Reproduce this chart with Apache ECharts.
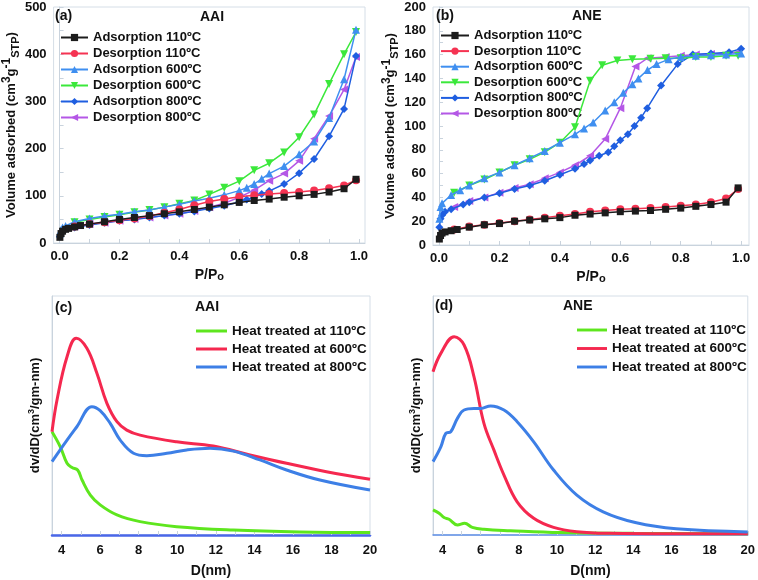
<!DOCTYPE html>
<html>
<head>
<meta charset="utf-8">
<script src="https://cdn.jsdelivr.net/npm/echarts@6.0.0/dist/echarts.min.js"></script>
<style>
  html, body { margin: 0; padding: 0; background: #fff; }
  #chart { width: 758px; height: 580px; }
</style>
</head>
<body>
<div id="chart"></div>
<script>
// ---- (a) AAI isotherms ----
var aAds110X = [0.001, 0.005, 0.01, 0.02, 0.03, 0.05, 0.07, 0.1, 0.15, 0.2, 0.25, 0.3, 0.35, 0.4, 0.45, 0.5, 0.55, 0.6, 0.65, 0.7, 0.75, 0.8, 0.85, 0.9, 0.95, 0.99];
var aAds110Y = [12, 20, 25, 29, 31, 34, 37, 40, 45, 50, 54, 58, 62, 66, 71, 76, 81, 86, 90, 93, 97, 100, 103, 108, 115, 135];
var aDes110X = [0.05, 0.1, 0.15, 0.2, 0.25, 0.3, 0.35, 0.4, 0.45, 0.5, 0.55, 0.6, 0.65, 0.7, 0.75, 0.8, 0.85, 0.9, 0.95, 0.99];
var aDes110Y = [35, 40, 44, 48, 52, 57, 64, 71, 80, 88, 93, 98, 101, 104, 106, 108, 111, 116, 122, 133];
var aAds600X = [0.001, 0.005, 0.01, 0.02, 0.05, 0.1, 0.15, 0.2, 0.25, 0.3, 0.35, 0.4, 0.45, 0.5, 0.55, 0.6, 0.625, 0.65, 0.675, 0.7, 0.75, 0.8, 0.85, 0.9, 0.95, 0.99];
var aAds600Y = [20, 28, 33, 36, 45, 52, 57, 61, 66, 70, 76, 82, 89, 95, 102, 111, 117, 125, 136, 147, 163, 188, 215, 265, 347, 452];
var aDes600X = [0.05, 0.1, 0.15, 0.2, 0.25, 0.3, 0.35, 0.4, 0.45, 0.5, 0.55, 0.6, 0.65, 0.7, 0.75, 0.8, 0.85, 0.9, 0.95, 0.99];
var aDes600Y = [44, 50, 55, 60, 65, 70, 76, 83, 90, 103, 117, 131, 154, 169, 192, 224, 272, 337, 400, 447];
var aAds800X = [0.001, 0.005, 0.01, 0.02, 0.05, 0.1, 0.15, 0.2, 0.25, 0.3, 0.35, 0.4, 0.45, 0.5, 0.55, 0.6, 0.625, 0.65, 0.675, 0.7, 0.75, 0.8, 0.85, 0.9, 0.95, 0.99];
var aAds800Y = [14, 20, 25, 29, 33, 38, 43, 47, 50, 54, 58, 62, 67, 73, 79, 87, 92, 97, 104, 110, 125, 148, 178, 226, 284, 396];
var aDes800X = [0.05, 0.1, 0.15, 0.2, 0.25, 0.3, 0.35, 0.4, 0.45, 0.5, 0.55, 0.6, 0.65, 0.7, 0.75, 0.8, 0.85, 0.9, 0.95, 0.99];
var aDes800Y = [35, 40, 43, 47, 51, 54, 58, 62, 68, 76, 84, 97, 112, 132, 147, 174, 221, 269, 325, 394];

// ---- (b) ANE isotherms ----
var bAds110X = [0.001, 0.005, 0.01, 0.02, 0.04, 0.06, 0.1, 0.15, 0.2, 0.25, 0.3, 0.35, 0.4, 0.45, 0.5, 0.55, 0.6, 0.65, 0.7, 0.75, 0.8, 0.85, 0.9, 0.95, 0.99];
var bAds110Y = [5, 8, 10, 11, 12, 13, 15, 17, 18, 20, 21, 22, 23, 25, 26, 27, 28, 28.5, 29, 30, 31, 32.5, 34, 36, 48];
var bDes110X = [0.05, 0.1, 0.15, 0.2, 0.25, 0.3, 0.35, 0.4, 0.45, 0.5, 0.55, 0.6, 0.65, 0.7, 0.75, 0.8, 0.85, 0.9, 0.95, 0.99];
var bDes110Y = [13, 15.5, 17, 18.5, 20, 21.5, 23, 24.5, 26, 28, 29, 30, 30.5, 31, 32, 33, 34, 36, 39, 47];
var bAds600X = [0.001, 0.005, 0.01, 0.04, 0.07, 0.1, 0.15, 0.2, 0.25, 0.3, 0.35, 0.4, 0.45, 0.48, 0.51, 0.55, 0.58, 0.61, 0.64, 0.66, 0.69, 0.72, 0.76, 0.8, 0.85, 0.9, 0.95, 1.0];
var bAds600Y = [22, 32, 35, 42, 46, 50, 56, 61, 67, 73, 79, 86, 93, 98, 103, 113, 120, 128, 135, 140, 147, 152, 156, 158, 159, 159.5, 160, 161];
var bDes600X = [0.05, 0.1, 0.15, 0.2, 0.25, 0.3, 0.35, 0.4, 0.45, 0.5, 0.54, 0.59, 0.64, 0.7, 0.75, 0.8, 0.85, 0.9, 0.95, 0.99];
var bDes600Y = [44, 50, 55, 61, 67, 72, 78, 86, 99, 138, 151, 155, 156, 156.5, 157, 157, 158, 158, 159, 159];
var bAds800X = [0.001, 0.005, 0.01, 0.02, 0.04, 0.08, 0.1, 0.15, 0.2, 0.25, 0.3, 0.35, 0.4, 0.45, 0.48, 0.5, 0.53, 0.56, 0.58, 0.6, 0.625, 0.647, 0.669, 0.689, 0.735, 0.79, 0.84, 0.9, 0.96, 1.0];
var bAds800Y = [15, 22, 25, 28, 30, 34, 36, 40, 43.5, 47, 50, 54, 59, 64, 68, 71, 75, 78, 83, 88, 93, 100, 107, 115, 134, 152, 160, 161, 162, 165];
var bDes800X = [0.05, 0.1, 0.15, 0.2, 0.25, 0.3, 0.35, 0.4, 0.45, 0.5, 0.55, 0.6, 0.65, 0.69, 0.75, 0.8, 0.85, 0.9, 0.95, 0.99];
var bDes800Y = [32, 37, 40, 44, 48, 51, 56, 61, 67, 75, 89, 115, 150, 157, 158, 159, 160, 160.5, 161, 162];

// ---- (c) AAI pore size distribution (arbitrary units) ----
var c110X = [3.5, 3.93, 4.28, 4.54, 4.83, 5.06, 5.49, 6.0, 6.87, 8.07, 9.97, 12.91, 16.36, 20];
var c110Y = [43.2, 36.9, 30.0, 28.2, 27.2, 23.0, 16.7, 12.6, 8.4, 5.6, 3.5, 2.1, 1.3, 1.0];
var c600X = [3.5, 3.76, 4.28, 4.76, 5.31, 5.83, 6.35, 6.87, 7.38, 8.07, 9.97, 11.87, 13.77, 15.67, 17.74, 20];
var c600Y = [43.2, 56.5, 74.6, 82.3, 78.1, 67.7, 55.1, 47.4, 43.9, 41.8, 39.0, 37.2, 33.5, 30.0, 26.5, 23.3];
var c800X = [3.5, 4.28, 4.79, 5.57, 6.0, 6.52, 7.04, 7.73, 8.42, 9.46, 10.49, 11.7, 12.91, 14.29, 15.67, 17.4, 20];
var c800Y = [30.7, 39.7, 45.3, 53.7, 52.0, 46.7, 39.7, 34.2, 33.2, 34.2, 35.6, 36.3, 35.1, 31.4, 27.2, 23.0, 18.8];

// ---- (d) ANE pore size distribution (arbitrary units) ----
var d110X = [3.5, 3.82, 4.08, 4.34, 4.78, 5.16, 5.56, 6.17, 7.56, 10.17, 14, 20];
var d110Y = [10.5, 9.1, 7.3, 6.6, 4.2, 4.9, 3.2, 2.4, 1.8, 1.0, 0.7, 0.5];
var d600X = [3.5, 3.91, 4.61, 5.13, 5.65, 6.17, 6.69, 7.22, 7.91, 8.78, 9.82, 11.04, 12.77, 16, 20];
var d600Y = [68.3, 76.0, 83.0, 79.5, 66.2, 46.7, 35.6, 25.1, 13.9, 7.0, 3.2, 1.4, 0.7, 0.5, 0.5];
var d800X = [3.5, 3.91, 4.17, 4.43, 4.78, 5.13, 5.65, 6.0, 6.52, 7.22, 7.91, 8.78, 9.82, 11.04, 12.42, 14.16, 16.25, 20];
var d800Y = [30.7, 36.9, 42.5, 43.2, 48.8, 52.3, 52.9, 52.9, 54.0, 52.3, 47.4, 39.0, 27.2, 16.7, 9.7, 5.1, 2.6, 1.3];

var isoNames = ['Adsorption 110ºC', 'Desorption 110ºC', 'Adsorption 600ºC', 'Desorption 600ºC', 'Adsorption 800ºC', 'Desorption 800ºC'];
var isoColors = ['#1c1c1c', '#f53352', '#3f8ff0', '#3be83b', '#1f5ee0', '#b457e6'];
var isoSymbols = ['rect', 'circle', 'triangle', 'triangle', 'diamond', 'triangle'];
var isoRotate = [0, 0, 0, 180, 0, 90];
var psdNames = ['Heat treated at 110ºC', 'Heat treated at 600ºC', 'Heat treated at 800ºC'];
var psdColors = ['#5ee61e', '#f5284f', '#3d7fe6'];
var isoTicks = [0, 0.1, 0.2, 0.3, 0.4, 0.5, 0.6, 0.7, 0.8, 0.9, 1.0];
var isoLabels = [0, 0.2, 0.4, 0.6, 0.8, 1.0];
var psdTicks = [4, 5, 6, 7, 8, 9, 10, 11, 12, 13, 14, 15, 16, 17, 18, 19, 20];
var psdLabels = [4, 6, 8, 10, 12, 14, 16, 18, 20];

function zip(xs, ys) {
  var out = [];
  for (var i = 0; i < xs.length; i++) {
    out.push([xs[i], ys[i]]);
  }
  return out;
}

var font = 'Liberation Sans, Arial, sans-serif';
var axisGray = '#c9d3dd';
var labelStyle = { color: '#111', fontSize: 13, fontWeight: 'bold', fontFamily: font };
var richName = {
  sup: { fontSize: 12, fontWeight: 'bold', fontFamily: font, color: '#111', verticalAlign: 'top', lineHeight: 12 },
  sub: { fontSize: 11, fontWeight: 'bold', fontFamily: font, color: '#111', verticalAlign: 'bottom', lineHeight: 12 }
};

var grids = [
  { left: 52, top: 7, width: 313, height: 236 },
  { left: 433, top: 7, width: 316, height: 238 },
  { left: 52, top: 296, width: 318, height: 239 },
  { left: 433, top: 296, width: 317, height: 239 }
];
grids.forEach(function(g) {
  g.show = true;
  g.borderColor = '#d5dee7';
  g.borderWidth = 1;
});

function isoX(idx, min, max) {
  return {
    type: 'value', gridIndex: idx, min: min, max: max,
    name: 'P/P{sub|o}', nameLocation: 'middle', nameGap: 25,
    nameTextStyle: { color: '#111', fontSize: 14, fontWeight: 'bold', fontFamily: font, rich: richName },
    axisLine: { show: true, lineStyle: { color: axisGray } },
    axisTick: { show: true, inside: true, length: 4, customValues: isoTicks, lineStyle: { color: axisGray } },
    axisLabel: Object.assign({ customValues: isoLabels, margin: 7, formatter: function(v) { return v.toFixed(1); } }, labelStyle),
    splitLine: { show: false }
  };
}

function isoY(idx, max, step) {
  var ticks = [];
  var labels = [];
  for (var v = 0; v <= max; v += step / 2) ticks.push(v);
  for (var w = 0; w <= max; w += step) labels.push(w);
  return {
    type: 'value', gridIndex: idx, min: 0, max: max,
    name: 'Volume adsorbed (cm{sup|3}g{sup|-1}{sub|STP})', nameLocation: 'middle', nameGap: 30,
    nameTextStyle: { color: '#111', fontSize: 13, fontWeight: 'bold', fontFamily: font, lineHeight: 20, rich: richName },
    axisLine: { show: true, lineStyle: { color: axisGray } },
    axisTick: { show: true, inside: true, length: 4, customValues: ticks, lineStyle: { color: axisGray } },
    axisLabel: Object.assign({ customValues: labels, margin: 7 }, labelStyle),
    splitLine: { show: false }
  };
}

function psdX(idx, baseColor, baseWidth) {
  return {
    type: 'value', gridIndex: idx, min: 3.5, max: 20,
    name: 'D(nm)', nameLocation: 'middle', nameGap: 29,
    nameTextStyle: { color: '#111', fontSize: 14, fontWeight: 'bold', fontFamily: font },
    axisLine: { show: true, lineStyle: { color: baseColor, width: baseWidth } },
    axisTick: { show: true, inside: true, length: 4, customValues: psdTicks, lineStyle: { color: axisGray } },
    axisLabel: Object.assign({ customValues: psdLabels, margin: 9 }, labelStyle),
    splitLine: { show: false }
  };
}

function psdY(idx) {
  return {
    type: 'value', gridIndex: idx, min: 0, max: 100,
    name: 'dv/dD(cm{sup|3}/gm-nm)', nameLocation: 'middle', nameGap: 9,
    nameTextStyle: { color: '#111', fontSize: 13, fontWeight: 'bold', fontFamily: font, lineHeight: 16,
      rich: { sup: { fontSize: 9, fontWeight: 'bold', fontFamily: font, color: '#111', verticalAlign: 'top', lineHeight: 9 } } },
    axisLine: { show: true, lineStyle: { color: axisGray } },
    axisTick: { show: false },
    axisLabel: { show: false },
    splitLine: { show: false }
  };
}

var series = [];
var aSets = [[aAds110X, aAds110Y], [aDes110X, aDes110Y], [aAds600X, aAds600Y], [aDes600X, aDes600Y], [aAds800X, aAds800Y], [aDes800X, aDes800Y]];
var bSets = [[bAds110X, bAds110Y], [bDes110X, bDes110Y], [bAds600X, bAds600Y], [bDes600X, bDes600Y], [bAds800X, bAds800Y], [bDes800X, bDes800Y]];
[aSets, bSets].forEach(function(sets, p) {
  sets.forEach(function(s, i) {
    series.push({
      name: isoNames[i], type: 'line', xAxisIndex: p, yAxisIndex: p,
      data: zip(s[0], s[1]),
      symbol: isoSymbols[i], symbolSize: i === 0 ? 7 : 8, symbolRotate: isoRotate[i],
      showAllSymbol: true,
      lineStyle: { color: isoColors[i], width: 1.5 },
      itemStyle: { color: isoColors[i] },
      z: 10 - i
    });
  });
});
var cSets = [[c110X, c110Y], [c600X, c600Y], [c800X, c800Y]];
var dSets = [[d110X, d110Y], [d600X, d600Y], [d800X, d800Y]];
[cSets, dSets].forEach(function(sets, p) {
  sets.forEach(function(s, i) {
    series.push({
      name: psdNames[i], type: 'line', xAxisIndex: p + 2, yAxisIndex: p + 2,
      data: zip(s[0], s[1]), smooth: 0.4,
      symbol: 'none',
      lineStyle: { color: psdColors[i], width: 3 },
      itemStyle: { color: psdColors[i] }
    });
  });
});

function legendAt(left, top, names, w, h, gap, size) {
  return {
    orient: 'vertical', left: left, top: top, data: names,
    itemWidth: w, itemHeight: h, itemGap: gap,
    textStyle: { color: '#111', fontSize: size, fontWeight: 'bold', fontFamily: font, lineHeight: 13 },
    selectedMode: false
  };
}

function tag(text, left, top) {
  return { text: text, left: left, top: top, padding: 0,
    textStyle: { color: '#111', fontSize: 14, fontWeight: 'bold', fontFamily: font } };
}

var myChart = echarts.init(document.getElementById('chart'));
var option = {
  backgroundColor: '#fff',
  animation: false,
  title: [
    tag('(a)', 55, 9), tag('AAI', 200, 10),
    tag('(b)', 436, 9), tag('ANE', 572, 9),
    tag('(c)', 55, 301), tag('AAI', 195, 300),
    tag('(d)', 435, 299), tag('ANE', 563, 299)
  ],
  legend: [
    legendAt(55, 26, isoNames, 27, 9, 3, 13),
    legendAt(435, 24, isoNames, 28, 9, 2.6, 13),
    Object.assign(legendAt(191, 319, psdNames, 31, 10, 4, 13.5), { icon: 'path://M0,4 L31,4 L31,7 L0,7 Z' }),
    Object.assign(legendAt(572, 318, psdNames, 30, 10, 4.5, 13.5), { icon: 'path://M0,4 L31,4 L31,7 L0,7 Z' })
  ],
  grid: grids,
  xAxis: [isoX(0, -0.02, 1.02), isoX(1, -0.02, 1.026), psdX(2, '#4a67e8', 2.5), psdX(3, '#5e8fe6', 1.5)],
  yAxis: [isoY(0, 500, 100), isoY(1, 200, 20), psdY(2), psdY(3)],
  series: series
};
myChart.setOption(option);
</script>
</body>
</html>
